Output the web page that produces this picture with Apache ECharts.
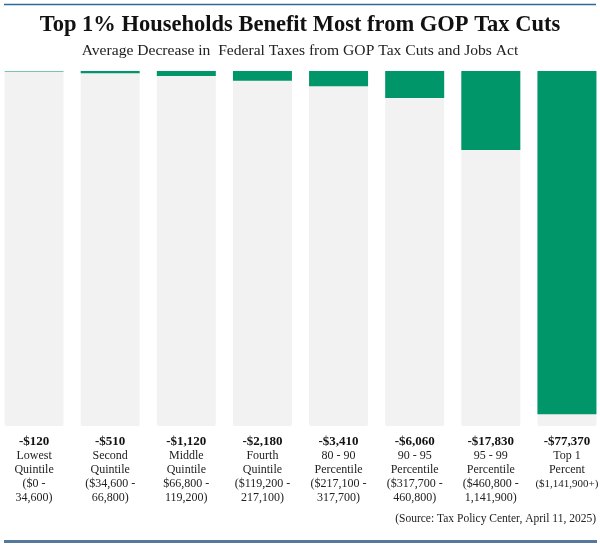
<!DOCTYPE html>
<html>
<head>
<meta charset="utf-8">
<script src="https://cdn.jsdelivr.net/npm/echarts@6/dist/echarts.min.js"></script>
<style>
  html, body { margin: 0; padding: 0; background: #fff; }
  #chart { width: 600px; height: 546px; }
</style>
</head>
<body>
<div id="chart"></div>
<script>
// income groups, one line per row of the label
var groups = [
    'Lowest\nQuintile\n($0 -\n34,600)',
    'Second\nQuintile\n($34,600 -\n66,800)',
    'Middle\nQuintile\n$66,800 -\n119,200)',
    'Fourth\nQuintile\n($119,200 -\n217,100)',
    '80 - 90\nPercentile\n($217,100 -\n317,700)',
    '90 - 95\nPercentile\n($317,700 -\n460,800)',
    '95 - 99\nPercentile\n($460,800 -\n1,141,900)',
    'Top 1\nPercent\n($1,141,900+)'
];
// average decrease in federal taxes, dollars
var decreases = [120, 510, 1120, 2180, 3410, 6060, 17830, 77370];
// full height of the grey columns
var scaleMax = 80000;
var backdrop = [80000, 80000, 80000, 80000, 80000, 80000, 80000, 80000];

var serif = '"Liberation Serif", "DejaVu Serif", serif';

var myChart = echarts.init(document.getElementById('chart'));

myChart.setOption({
    backgroundColor: '#ffffff',
    animation: false,
    title: [
        {
            text: 'Top 1% Households Benefit Most from GOP Tax Cuts',
            left: 'center',
            top: 9,
            textStyle: { fontFamily: serif, fontSize: 22.5, fontWeight: 'bold', color: '#111' }
        },
        {
            text: 'Average Decrease in  Federal Taxes from GOP Tax Cuts and Jobs Act',
            left: 'center',
            top: 38,
            textStyle: { fontFamily: serif, fontSize: 15.6, fontWeight: 'normal', color: '#222' }
        }
    ],
    grid: { left: -4, right: -5, top: 71, bottom: 120, outerBoundsMode: 'none' },
    xAxis: {
        type: 'category',
        data: groups,
        axisLine: { show: false },
        axisTick: { show: false },
        axisLabel: {
            interval: 0,
            margin: 9,
            fontFamily: serif,
            fontSize: 12,
            lineHeight: 14,
            color: '#222',
            formatter: function (value, idx) {
                var head = '-$' + decreases[idx].toLocaleString('en-US');
                // long lines get the narrow style so they stay inside the page
                var rows = value.split('\n').map(function (r) {
                    return r.length > 11 ? '{n|' + r + '}' : r;
                });
                return '{v|' + head + '}\n' + rows.join('\n');
            },
            rich: {
                v: { fontFamily: serif, fontSize: 13, fontWeight: 'bold', lineHeight: 14, color: '#111' },
                n: { fontFamily: serif, fontSize: 11, lineHeight: 14, color: '#222' }
            }
        }
    },
    yAxis: {
        type: 'value',
        inverse: true,
        min: 0,
        max: scaleMax,
        show: false,
        splitLine: { show: false }
    },
    series: [
        {
            type: 'bar',
            data: backdrop,
            barWidth: 59,
            silent: true,
            itemStyle: { color: '#f2f2f2', borderRadius: 2 }
        },
        {
            type: 'bar',
            data: decreases,
            barWidth: 59,
            barGap: '-100%',
            itemStyle: { color: '#00966a' }
        }
    ],
    graphic: [
        {
            type: 'line',
            shape: { x1: 4, y1: 4.5, x2: 596, y2: 4.5 },
            style: { stroke: '#2d6a9b', lineWidth: 1.5 }
        },
        {
            type: 'line',
            shape: { x1: 4, y1: 541.5, x2: 597, y2: 541.5 },
            style: { stroke: '#56789c', lineWidth: 3 }
        },
        {
            type: 'text',
            right: 4,
            top: 513,
            style: {
                text: '(Source: Tax Policy Center, April 11, 2025)',
                font: '11.5px ' + serif,
                fill: '#222'
            }
        }
    ]
});
</script>
</body>
</html>
